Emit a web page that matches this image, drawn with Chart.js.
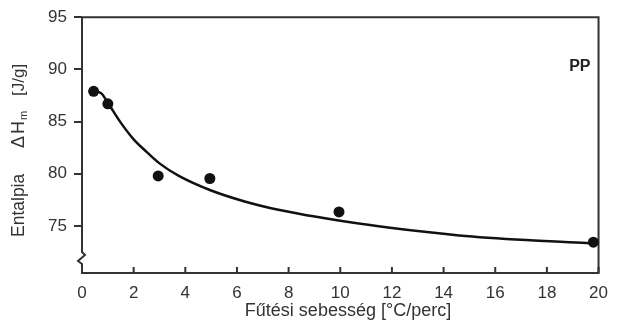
<!DOCTYPE html>
<html><head><meta charset="utf-8">
<script src="https://cdn.jsdelivr.net/npm/chart.js@4/dist/chart.umd.min.js"></script>
<style>html,body{margin:0;padding:0;background:#fff}</style>
</head><body>
<canvas id="c" width="618" height="324"></canvas>
<script>
const xTicks = [0, 2, 4, 6, 8, 10, 12, 14, 16, 18, 20];
const yTicks = [75, 80, 85, 90, 95];
const pointX = [0.45, 1.0, 2.95, 4.95, 9.95, 19.8];
const pointY = [87.9, 86.7, 79.8, 79.55, 76.35, 73.45];
const curveX = [0.5, 0.75, 1, 1.5, 2, 2.5, 3, 3.75, 5, 6.3, 7.6, 8.9, 10, 12, 14.6, 17.2, 19.7];
const curveY = [87.9, 87.7, 86.8, 84.9, 83.3, 82.1, 81.0, 79.8, 78.4, 77.35, 76.55, 75.95, 75.5, 74.8, 74.1, 73.65, 73.35];
const xTitle = 'Fűtési sebesség [°C/perc]';
const seriesLabel = 'PP';

Chart.defaults.font.family = "'Liberation Sans', Arial, sans-serif";
Chart.defaults.color = '#333';

const decor = {
  id: 'decor',
  beforeDatasetsDraw(chart) {
    const {ctx, chartArea: a, scales: {x}} = chart;
    ctx.save();
    ctx.strokeStyle = '#333';
    ctx.lineWidth = 2;
    ctx.lineCap = 'square';
    ctx.beginPath();
    ctx.moveTo(a.left, a.top); ctx.lineTo(a.right, a.top); ctx.lineTo(a.right, a.bottom);
    ctx.moveTo(a.left, a.top); ctx.lineTo(a.left, a.bottom - 21);
    ctx.lineTo(a.left + 3, a.bottom - 18);
    ctx.lineTo(a.left - 4, a.bottom - 12);
    ctx.lineTo(a.left, a.bottom - 9);
    ctx.lineTo(a.left, a.bottom);
    ctx.stroke();
    ctx.beginPath();
    ctx.lineCap = 'butt';
    xTicks.forEach(v => {
      const px = x.getPixelForValue(v);
      ctx.moveTo(px, a.bottom); ctx.lineTo(px, a.bottom - 6);
    });
    ctx.stroke();
    ctx.restore();
  },
  afterDraw(chart) {
    const {ctx, chartArea: a} = chart;
    ctx.save();
    ctx.fillStyle = '#333';
    ctx.font = "18px 'Liberation Sans', Arial, sans-serif";
    ctx.textAlign = 'center'; ctx.textBaseline = 'middle';
    ctx.fillText(xTitle, 348, 311);
    ctx.fillStyle = '#222';
    ctx.font = "bold 16px 'Liberation Sans', Arial, sans-serif";
    ctx.textAlign = 'right';
    ctx.fillText(seriesLabel, a.right - 8, 67);
    // y title (rotated), with subscript
    ctx.fillStyle = '#333';
    ctx.translate(19, 0);
    ctx.rotate(-Math.PI / 2);
    ctx.textAlign = 'left'; ctx.textBaseline = 'middle';
    const F = s => s + "px 'Liberation Sans', Arial, sans-serif";
    ctx.font = F(17.5); ctx.fillText('Entalpia', -237, 0);
    ctx.font = F(18); ctx.fillText('Δ', -148, 0);
    const dw = ctx.measureText('Δ').width;
    ctx.fillText('H', -148 + dw + 2, 0);
    const hw = ctx.measureText('H').width;
    ctx.font = F(11); ctx.fillText('m', -148 + dw + 2 + hw + 1, 5);
    ctx.font = F(17); ctx.fillText('[J/g]', -96, 0);
    ctx.restore();
  }
};

new Chart(document.getElementById('c'), {
  type: 'scatter',
  data: {
    datasets: [
      {
        data: curveX.map((v, i) => ({x: v, y: curveY[i]})),
        showLine: true, pointRadius: 0, borderColor: '#111', borderWidth: 2.5,
        cubicInterpolationMode: 'monotone', fill: false
      },
      {
        data: pointX.map((v, i) => ({x: v, y: pointY[i]})),
        showLine: false, pointRadius: 5.5, pointBackgroundColor: '#111',
        pointBorderColor: '#111', pointBorderWidth: 0, clip: false
      }
    ]
  },
  options: {
    responsive: false, animation: false, devicePixelRatio: 1,
    layout: {padding: {top: 15, right: 14, left: 0, bottom: 0}},
    plugins: {legend: {display: false}, tooltip: {enabled: false}},
    scales: {
      x: {
        type: 'linear', min: 0, max: 20,
        afterBuildTicks: s => { s.ticks = xTicks.map(v => ({value: v})); },
        afterFit: s => { s.height = 51; },
        grid: {drawOnChartArea: false, drawTicks: false},
        border: {display: true, color: '#333', width: 2},
        ticks: {padding: 10, color: '#333', font: {size: 17}, maxRotation: 0, autoSkip: false}
      },
      y: {
        type: 'linear', min: 70.5, max: 95,
        afterBuildTicks: s => { s.ticks = yTicks.map(v => ({value: v})); },
        afterFit: s => { s.width = 82; },
        grid: {drawOnChartArea: false, drawTicks: true, tickLength: 8, color: '#333', lineWidth: 2},
        border: {display: false},
        ticks: {padding: 7, color: '#333', font: {size: 17}}
      }
    }
  },
  plugins: [decor]
});
</script>
</body></html>
